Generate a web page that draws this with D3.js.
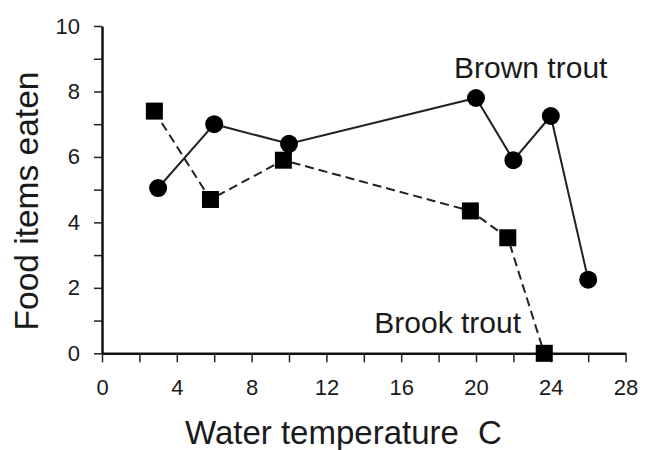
<!DOCTYPE html>
<html>
<head>
<meta charset="utf-8">
<script src="https://cdn.jsdelivr.net/npm/d3@7"></script>
<style>
    body { margin: 0; background: white; }
    text { font-family: "Liberation Sans", Arial, sans-serif; fill: #1a1a1a; }
</style>
</head>
<body>
<script>
// brown trout (circles, solid line)
const brownTemp = [3, 6, 10, 20, 22, 24, 26];
const brownEaten = [5.05, 7.0, 6.4, 7.8, 5.9, 7.25, 2.25];
// brook trout (squares, dashed line)
const brookTemp = [2.8, 5.8, 9.7, 19.7, 21.7, 23.65];
const brookEaten = [7.4, 4.7, 5.9, 4.35, 3.53, 0];

const xTicks = [0, 4, 8, 12, 16, 20, 24, 28];
const yTicks = [0, 2, 4, 6, 8, 10];

const wSvg = 651;
const hSvg = 450;

const xScale = d3.scaleLinear([0, 28], [102, 625.6]);
const yScale = d3.scaleLinear([0, 10], [353.3, 26]);

const brown = brownTemp.map((t, i) => ({ x: t, y: brownEaten[i] }));
const brook = brookTemp.map((t, i) => ({ x: t, y: brookEaten[i] }));

let svg = d3.select("body")
    .append("svg")
    .attr("width", wSvg)
    .attr("height", hSvg);

// x axis: ticks every 2, labels every 4
let xAxis = d3.axisBottom(xScale)
    .tickValues(d3.range(0, 29, 2))
    .tickSize(9)
    .tickSizeOuter(0)
    .tickPadding(17)
    .tickFormat(d => xTicks.includes(d) ? d : "");
svg.append("g")
    .attr("transform", `translate(0, ${yScale(0)})`)
    .call(xAxis);

let yAxis = d3.axisLeft(yScale)
    .tickValues(d3.range(0, 11, 1))
    .tickSize(8)
    .tickSizeOuter(0)
    .tickPadding(14)
    .tickFormat(d => yTicks.includes(d) ? d : "");
svg.append("g")
    .attr("transform", `translate(${xScale(0)}, 0)`)
    .call(yAxis);

svg.selectAll(".domain")
    .attr("stroke", "#111")
    .attr("stroke-width", 2.5);
svg.selectAll(".tick line")
    .attr("stroke", "#222")
    .attr("stroke-width", 1.5);
svg.selectAll(".tick text")
    .attr("fill", "#1a1a1a")
    .style("font-size", "22px")
    .style("font-family", "'Liberation Sans', Arial, sans-serif");

const line = d3.line()
    .x(d => xScale(d.x))
    .y(d => yScale(d.y));

svg.append("path")
    .attr("d", line(brook))
    .attr("fill", "none")
    .attr("stroke", "#222")
    .attr("stroke-width", 2)
    .attr("stroke-dasharray", "9,5");

svg.append("path")
    .attr("d", line(brown))
    .attr("fill", "none")
    .attr("stroke", "#222")
    .attr("stroke-width", 2);

const sq = 17;
svg.append("g")
    .selectAll("rect")
    .data(brook)
    .enter()
    .append("rect")
    .attr("x", d => xScale(d.x) - sq / 2)
    .attr("y", d => yScale(d.y) - sq / 2)
    .attr("width", sq)
    .attr("height", sq)
    .attr("fill", "#000");

svg.append("g")
    .selectAll("circle")
    .data(brown)
    .enter()
    .append("circle")
    .attr("cx", d => xScale(d.x))
    .attr("cy", d => yScale(d.y))
    .attr("r", 9)
    .attr("fill", "#000");

svg.append("text")
    .attr("x", 454)
    .attr("y", 78)
    .style("font-size", "30px")
    .text("Brown trout");

svg.append("text")
    .attr("x", 521)
    .attr("y", 333)
    .attr("text-anchor", "end")
    .style("font-size", "30px")
    .text("Brook trout");

let xTitle = svg.append("text")
    .attr("x", 185)
    .attr("y", 444)
    .style("font-size", "33px");
xTitle.append("tspan").text("Water temperature");
xTitle.append("tspan").attr("x", 478).text("C");

svg.append("text")
    .attr("transform", "translate(38, 201) rotate(-90)")
    .attr("text-anchor", "middle")
    .style("font-size", "33.5px")
    .text("Food items eaten");
</script>
</body>
</html>
